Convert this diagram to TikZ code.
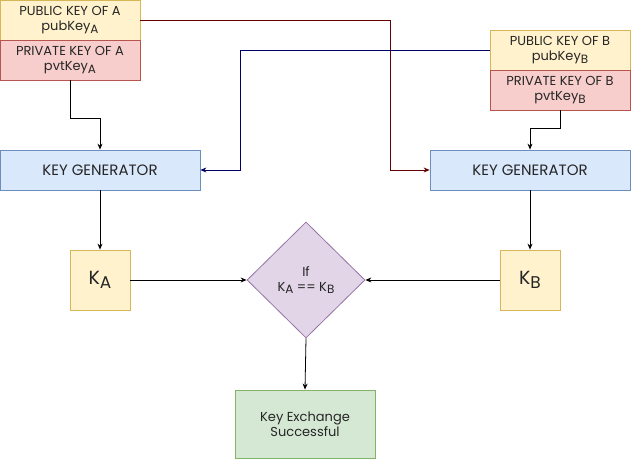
\documentclass[tikz,border=0pt]{standalone}
\usepackage{fontspec}
\setmainfont{Poppins}
\usetikzlibrary{arrows.meta,shapes.geometric}
\newcommand\lowsub[2][12]{\raisebox{-0.4ex}{\fontsize{#1}{#1}\selectfont #2}}
\definecolor{yfill}{HTML}{FFF2CC}\definecolor{ydraw}{HTML}{D6B656}
\definecolor{rfill}{HTML}{F8CECC}\definecolor{rdraw}{HTML}{B85450}
\definecolor{bfill}{HTML}{DAE8FC}\definecolor{bdraw}{HTML}{6C8EBF}
\definecolor{pfill}{HTML}{E1D5E7}\definecolor{pdraw}{HTML}{9673A6}
\definecolor{gfill}{HTML}{D5E8D4}\definecolor{gdraw}{HTML}{82B366}
\definecolor{darkred}{HTML}{660000}\definecolor{navyline}{HTML}{000066}
\begin{document}
\begin{tikzpicture}[x=1pt,y=-1pt,
  box/.style={draw, line width=0.8pt, minimum width=#1, inner sep=0pt, align=center, font=\fontsize{13}{15}\selectfont, text=black!85},
  ybox/.style={box=140pt, minimum height=40pt, fill=yfill, draw=ydraw},
  rbox/.style={box=140pt, minimum height=40pt, fill=rfill, draw=rdraw},
  kgbox/.style={box=200pt, minimum height=40pt, fill=bfill, draw=bdraw, font=\fontsize{15}{17}\selectfont},
  kbox/.style={box=60pt, minimum height=60pt, fill=yfill, draw=ydraw, font=\fontsize{19}{21}\selectfont},
  conn/.style={draw, line width=0.8pt, -{Stealth[length=6pt,width=5pt]}},
]
\useasboundingbox (0,0) rectangle (631,462);
\node[ybox] (puba) at (70,20) {PUBLIC KEY OF A\\pubKey\lowsub{A}};
\node[rbox] (pvta) at (70,60) {PRIVATE KEY OF A\\pvtKey\lowsub{A}};
\node[ybox] (pubb) at (560,50) {PUBLIC KEY OF B\\pubKey\lowsub{B}};
\node[rbox] (pvtb) at (560,90) {PRIVATE KEY OF B\\pvtKey\lowsub{B}};
\node[kgbox] (kga) at (100,170) {KEY GENERATOR};
\node[kgbox] (kgb) at (530,170) {KEY GENERATOR};
\node[kbox] (ka) at (100,280) {K\lowsub[17]{A}};
\node[kbox] (kb) at (530,280) {K\lowsub[17]{B}};
\node[diamond, draw=pdraw, fill=pfill, line width=0.8pt, minimum width=118pt, minimum height=116pt, inner sep=0pt, align=center, font=\fontsize{13}{15}\selectfont, text=black!85] (cmp) at (306,280) {If\\K\lowsub{A} == K\lowsub{B}};
\node[box=140pt, minimum height=68pt, fill=gfill, draw=gdraw] (res) at (305,424) {Key Exchange\\Successful};
\coordinate (bendA) at (390,20);
\coordinate (bendB) at (240,50);
\draw[conn, darkred] (puba.east) -- (bendA) |- (kgb.west);
\draw[conn, navyline] (pubb.west) -- (bendB) |- (kga.east);
\draw[conn] (pvta.south) -- ++(0,38) -| (kga.north);
\draw[conn] (pvtb.south) -- ++(0,18) -| (kgb.north);
\draw[conn] (kga.south) -- (ka.north);
\draw[conn] (kgb.south) -- (kb.north);
\draw[conn] (ka.east) -- (cmp.west);
\draw[conn] (kb.west) -- (cmp.east);
\draw[conn] (cmp.south) -- (res.north);
\end{tikzpicture}
\end{document}
